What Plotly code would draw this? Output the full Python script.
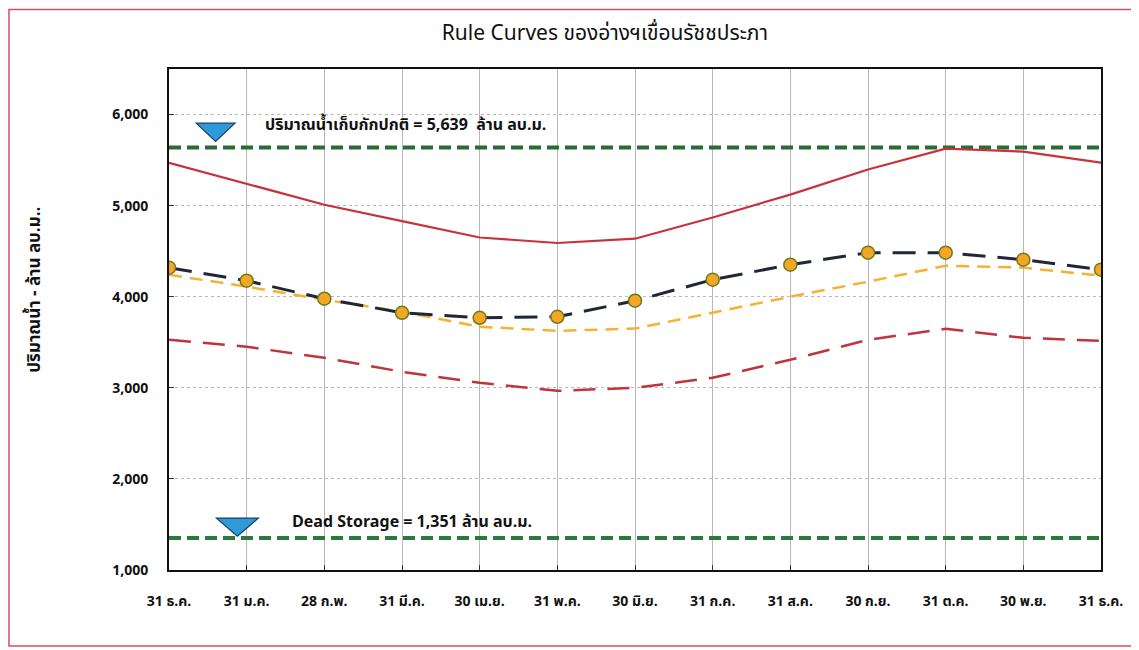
import plotly.graph_objects as go

categories = ["31 ธ.ค.", "31 ม.ค.", "28 ก.พ.", "31 มี.ค.", "30 เม.ย.", "31 พ.ค.",
              "30 มิ.ย.", "31 ก.ค.", "31 ส.ค.", "30 ก.ย.", "31 ต.ค.", "30 พ.ย.", "31 ธ.ค."]
upper_rule = [5470, 5240, 5010, 4830, 4650, 4590, 4637, 4870, 5121, 5396, 5626, 5593, 5473]
lower_rule = [3527, 3451, 3330, 3176, 3055, 2967, 3000, 3110, 3308, 3527, 3648, 3549, 3516]
average = [4242, 4110, 3967, 3835, 3670, 3626, 3650, 3824, 4000, 4165, 4341, 4319, 4231]
observed = [4319, 4176, 3978, 3824, 3769, 3780, 3956, 4187, 4352, 4484, 4484, 4407, 4297]
normal_storage = 5639
dead_storage = 1351
y_ticks = [1000, 2000, 3000, 4000, 5000, 6000]
y_tick_labels = ["1,000", "2,000", "3,000", "4,000", "5,000", "6,000"]

x = list(range(len(categories)))
FONT = "Tahoma, 'Noto Sans Thai', 'Noto Sans', 'DejaVu Sans', sans-serif"

fig = go.Figure()
fig.add_trace(go.Scatter(x=[x[0], x[-1]], y=[normal_storage] * 2, mode="lines",
                         line=dict(color="#2b6b35", width=4, dash="12px,6px"), showlegend=False))
fig.add_trace(go.Scatter(x=[x[0], x[-1]], y=[dead_storage] * 2, mode="lines",
                         line=dict(color="#2b7a3c", width=4, dash="12px,6px"), showlegend=False))
fig.add_trace(go.Scatter(x=x, y=upper_rule, mode="lines",
                         line=dict(color="#c8323a", width=2.2), showlegend=False))
fig.add_trace(go.Scatter(x=x, y=lower_rule, mode="lines",
                         line=dict(color="#c0343c", width=2.5, dash="22px,12px"), showlegend=False))
fig.add_trace(go.Scatter(x=x, y=average, mode="lines",
                         line=dict(color="#f5b133", width=2.5, dash="13px,8px"), showlegend=False))
fig.add_trace(go.Scatter(x=x, y=observed, mode="lines+markers",
                         line=dict(color="#1e2836", width=3, dash="23px,12px"),
                         marker=dict(size=13, color="#f5a623", line=dict(color="#6e7a20", width=1.5)),
                         showlegend=False))

# inverted triangle markers (water level symbols)
def tri(xc, yc, hw, h):
    return f"M {xc-hw},{yc} L {xc+hw},{yc} L {xc},{yc-h} Z"

fig.add_shape(type="path", path=tri(0.6, 5905, 0.25, 200), xref="x", yref="y",
              fillcolor="#2f9ad8", line=dict(color="#1b3e66", width=1.2))
fig.add_shape(type="path", path=tri(0.88, 1570, 0.27, 200), xref="x", yref="y",
              fillcolor="#2f9ad8", line=dict(color="#1b3e66", width=1.2))

fig.add_annotation(x=1.21, y=5880, xref="x", yref="y", xanchor="left", yanchor="middle",
                   text="<b>ปริมาณน้ำเก็บกักปกติ = 5,639  ล้าน ลบ.ม.</b>", showarrow=False,
                   font=dict(family=FONT, size=16, color="#111"))
fig.add_annotation(x=1.56, y=1530, xref="x", yref="y", xanchor="left", yanchor="middle",
                   text="<b>Dead Storage = 1,351 ล้าน ลบ.ม.</b>", showarrow=False,
                   font=dict(family=FONT, size=16, color="#111"))

# y-axis title
fig.add_annotation(x=-0.1435, y=0.56, xref="paper", yref="paper", textangle=-90,
                   text="<b>ปริมาณน้ำ - ล้าน ลบ.ม..</b>", showarrow=False,
                   xanchor="center", yanchor="middle",
                   font=dict(family=FONT, size=17, color="#111"))

# outer frame
fig.add_shape(type="rect", xref="paper", yref="paper", x0=-0.1717, x1=1.0343, y0=-0.1517, y1=1.119,
              line=dict(color="#d05060", width=1.5), fillcolor="rgba(0,0,0,0)", layer="below")

fig.update_layout(
    width=1139, height=650,
    margin=dict(l=161, r=46, t=61, b=88),
    paper_bgcolor="white", plot_bgcolor="white",
    title=dict(text="Rule Curves ของอ่างฯเขื่อนรัชชประภา", x=0.524, xanchor="center",
               y=0.962, yanchor="middle", font=dict(family=FONT, size=21, color="#111")),
    font=dict(family=FONT, color="#111"),
)
fig.update_xaxes(range=[0, 12], tickmode="array", tickvals=x,
                 ticktext=[f"<b>{c}</b>" for c in categories],
                 showgrid=True, gridcolor="#b8b8b8", gridwidth=1,
                 showline=True, linecolor="#111", linewidth=2, mirror=True,
                 ticks="inside", ticklen=5, tickcolor="#333", ticklabelstandoff=17,
                 tickfont=dict(family=FONT, size=14, color="#111"), zeroline=False)
fig.update_yaxes(range=[1000, 6500], tickmode="array", tickvals=y_ticks,
                 ticktext=[f"<b>{t}</b>" for t in y_tick_labels],
                 showgrid=True, gridcolor="#b8b8b8", gridwidth=1, griddash="dot",
                 showline=True, linecolor="#111", linewidth=2, mirror=True,
                 ticks="inside", ticklen=5, tickcolor="#333", ticklabelstandoff=16,
                 tickfont=dict(family=FONT, size=14, color="#111"), zeroline=False)

fig.write_html("out.html")
